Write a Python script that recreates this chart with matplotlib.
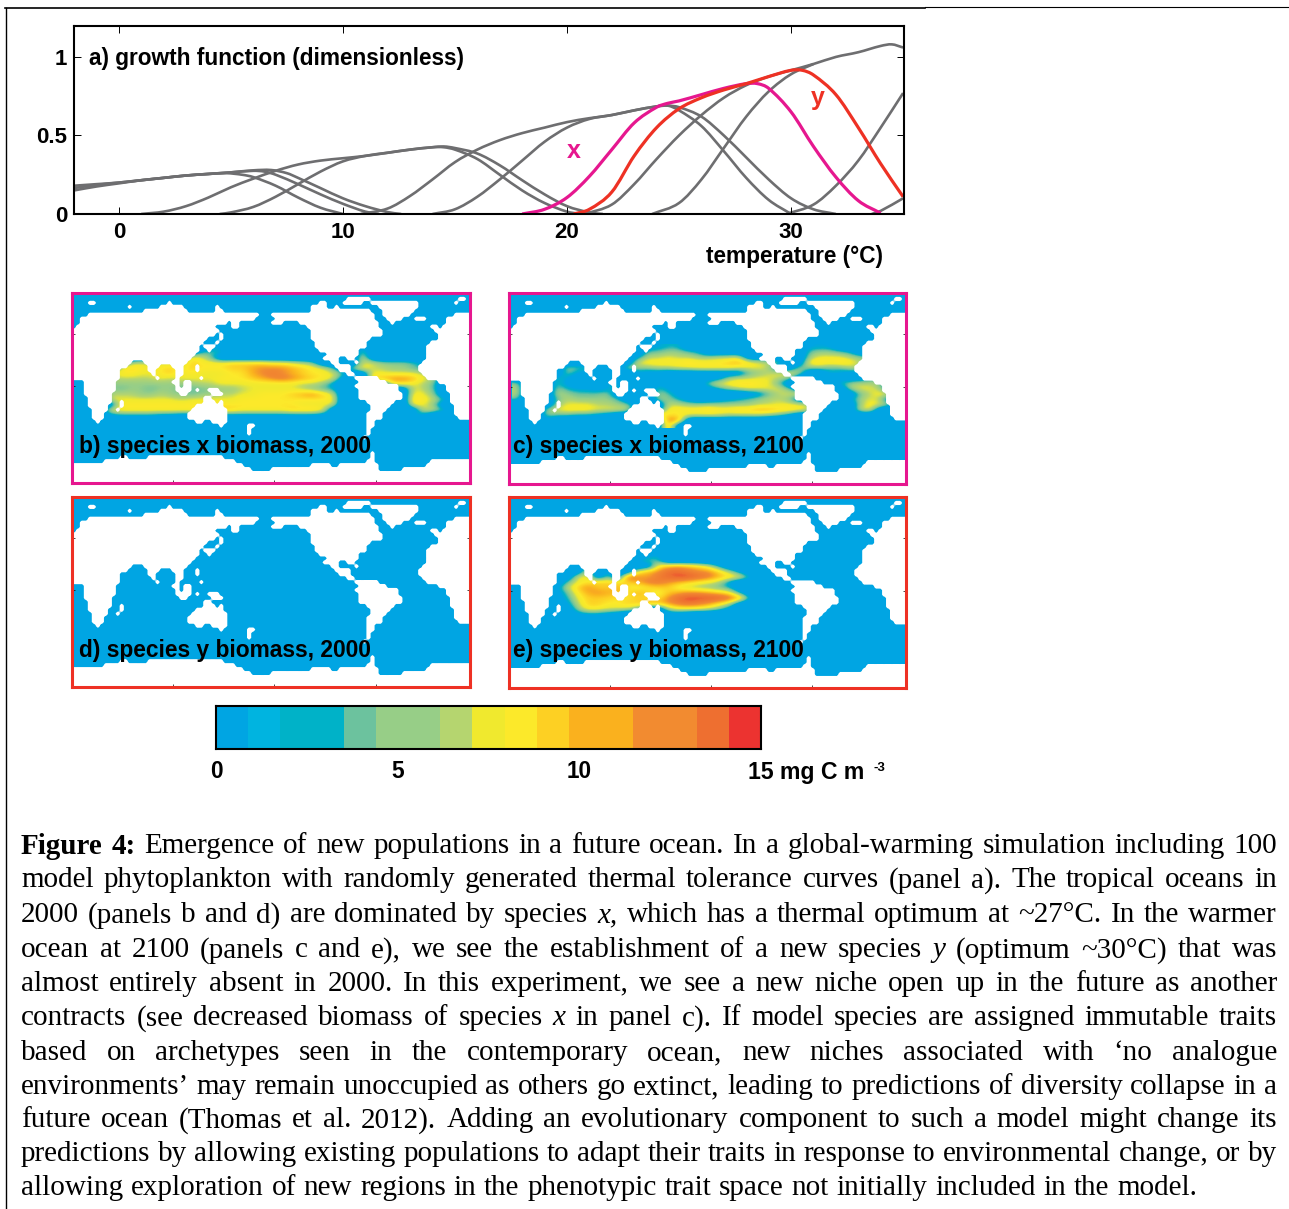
import numpy as np
import matplotlib
matplotlib.use('Agg')
import matplotlib.pyplot as plt
from matplotlib.colors import ListedColormap, LinearSegmentedColormap, BoundaryNorm, Normalize
from matplotlib.patches import PathPatch
from matplotlib.path import Path

W, H = 1289, 1209
plt.rcParams['font.family'] = ['Liberation Sans', 'DejaVu Sans']

# growth curves: [temperature, growth]
gray_curves = [
    ([-2, -1, 0, 1, 2, 3, 4, 4.8, 5.5, 6, 7, 8, 9, 10],
     [.15, .175, .195, .215, .23, .245, .255, .26, .25, .235, .18, .105, .04, 0]),
    ([-2, -1, 0, 1, 2, 3, 4, 5, 6, 6.5, 7, 8, 9, 10, 11, 11.6],
     [.165, .185, .2, .215, .23, .245, .255, .265, .275, .27, .25, .19, .125, .065, .015, 0]),
    ([-2, -1, 0, 1, 2, 3, 4, 5, 6, 6.8, 7.5, 8, 9, 10, 11, 12, 12.6],
     [.18, .19, .2, .215, .23, .245, .255, .265, .278, .28, .26, .23, .165, .1, .05, .012, 0]),
    ([1, 2, 3, 4, 5, 6, 7, 8, 9, 10, 11, 12, 13, 14, 14.5, 15, 16, 17, 18, 19, 20, 21, 21.6],
     [0, .015, .05, .105, .17, .225, .275, .315, .34, .355, .37, .39, .41, .425, .43, .42, .385, .31, .215, .125, .05, .01, 0]),
    ([4.5, 5, 6, 7, 8, 9, 10, 11, 12, 13, 14, 14.5, 15, 16, 17, 18, 19, 20, 20.6],
     [0, .01, .045, .11, .19, .27, .335, .37, .39, .41, .425, .425, .41, .35, .25, .15, .07, .015, 0]),
    ([10.8, 12, 13, 14, 15, 16, 17, 18, 19, 20, 21, 22, 23, 24, 24.5, 25, 26, 27, 28, 29, 30, 31, 32],
     [0, .035, .115, .22, .33, .41, .47, .515, .55, .585, .61, .63, .66, .685, .69, .68, .62, .5, .36, .22, .1, .03, 0]),
    ([14, 15, 16, 17, 18, 19, 20, 21, 22, 23, 24, 24.5, 25, 26, 27, 28, 29, 30],
     [0, .03, .11, .22, .34, .46, .55, .605, .63, .66, .685, .69, .66, .56, .4, .23, .09, 0]),
    ([20.8, 22, 23, 24, 25, 26, 27, 28, 29, 30, 31, 32, 33, 34, 34.5, 35],
     [0, .06, .19, .35, .5, .63, .74, .82, .875, .915, .955, 1.0, 1.03, 1.07, 1.08, 1.06]),
    ([23.8, 25, 26, 27, 28, 29, 30, 31],
     [0, .07, .22, .42, .62, .78, .89, .955]),
    ([29.8, 31, 32, 33, 34, 35], [0, .06, .18, .34, .55, .77]),
    ([33.6, 34, 35], [0, .02, .1]),
]
temp_x = [18, 19, 20, 21, 22, 23, 24, 24.5, 25, 26, 27, 28, 28.5, 29, 30, 31, 32, 33, 34]
grow_x = [0, .03, .105, .24, .41, .58, .68, .705, .72, .76, .8, .83, .83, .8, .65, .43, .235, .085, .005]
temp_y = [20.3, 21, 22, 23, 24, 25, 26, 27, 28, 29, 30, 30.5, 31, 32, 33, 34, 35]
grow_y = [0, .03, .14, .37, .55, .67, .74, .79, .83, .875, .915, .915, .885, .76, .55, .32, .11]

# colour bar levels
level_colors = ['#00A5E3', '#00B4E0', '#00B2C8', '#00B2C8', '#6CC29E', '#97CE87', '#97CE87',
                '#B5D56F', '#F0E92E', '#FCE92A', '#FDD023', '#FAB11E', '#FAB11E', '#F28B30',
                '#F28B30', '#EE6F30', '#EC3330']

# land cells of the 100x48 map, per row: (first col, end col)
land_rows = [
    [],
    [(69, 75), (97, 99)],
    [(4, 6), (24, 25), (68, 73), (75, 87), (62, 64), (96, 97)],
    [(14, 15), (22, 28), (36, 37), (60, 62), (62, 64), (66, 67), (77, 87)],
    [(18, 29), (36, 38), (60, 62), (62, 75), (78, 86)],
    [(4, 47), (50, 76), (78, 85), (96, 100)],
    [(2, 46), (51, 76), (79, 83), (86, 89), (94, 100)],
    [(2, 39), (40, 42), (50, 53), (57, 77), (80, 81), (94, 100)],
    [(1, 36), (40, 42), (59, 77), (90, 92), (93, 100)],
    [(0, 37), (60, 78), (91, 100)],
    [(0, 36), (37, 38), (60, 78), (92, 100)],
    [(0, 34), (37, 38), (60, 75), (92, 100)],
    [(0, 33), (36, 37), (61, 74), (90, 100)],
    [(0, 32), (33, 36), (61, 74), (89, 100)],
    [(0, 32), (34, 35), (62, 72), (89, 100)],
    [(0, 31), (64, 72), (89, 100)],
    [(0, 30), (63, 64), (64, 67), (69, 71), (89, 100)],
    [(0, 15), (18, 29), (65, 67), (71, 72), (88, 100)],
    [(0, 14), (19, 22), (25, 28), (31, 32), (66, 70), (87, 100)],
    [(0, 12), (19, 21), (26, 28), (31, 32), (67, 70), (87, 100)],
    [(0, 12), (20, 21), (26, 28), (69, 71), (88, 100)],
    [(0, 12), (21, 22), (26, 27), (32, 33), (71, 72), (72, 77), (89, 100)],
    [(3, 11), (25, 27), (28, 30), (72, 79), (92, 100)],
    [(3, 11), (26, 27), (28, 30), (71, 82), (94, 100)],
    [(3, 11), (26, 28), (28, 30), (31, 32), (34, 37), (72, 82), (94, 100)],
    [(3, 10), (27, 28), (28, 29), (35, 38), (72, 83), (95, 100)],
    [(4, 10), (33, 35), (72, 83), (95, 100)],
    [(4, 10), (12, 13), (33, 36), (37, 38), (74, 81), (95, 100)],
    [(4, 9), (12, 13), (31, 38), (75, 80), (96, 100)],
    [(5, 9), (11, 12), (30, 39), (75, 79), (96, 100)],
    [(5, 8), (29, 39), (74, 78), (96, 100)],
    [(5, 8), (29, 39), (74, 78), (97, 100)],
    [(6, 7), (31, 33), (35, 39), (74, 76)],
    [(37, 38), (44, 46), (74, 76)],
    [(44, 45), (74, 75)],
    [(44, 45), (74, 75)],
    [(73, 74)],
    [], [], [],
    [(75, 76)],
    [(12, 14), (19, 38), (75, 76)],
    [(8, 41), (74, 76), (90, 100)],
    [(0, 43), (60, 65), (67, 77), (89, 100)],
    [(0, 45), (50, 77), (83, 100)],
    [(0, 100)],
    [(0, 100)],
    [(0, 100)],
]

# biomass, hex digit = mg C m-3, 39 cols, 16 rows across the tropics
biomass_b = [
    '0000000000000330000000000000400000000',
    '0000000000005540000000000000600000000',
    '00000000000a8500000000000000800000000',
    '00000787887a999aaaa9987600008866653',
    '00008a989a8a999aabcccba98506977665440',
    '000799889a8988899bcdcba99850098888763',
    '00067777878888999abcdcba98200abccb87',
    '000666666666778888888877630000099875',
    '000656656655566678888876541000000875',
    '000777667665667788999abca80000000986',
    '000888888878888899999999990000000a975',
    '000099999999999999999988880000000986',
    '000899999999aaaa99999aaa9000000000875',
    '00034444332233333333333322000000043',
    '0',
    '0',
]
biomass_c = [
    '0000000000000234400000000000033300',
    '0000000000000556654000000000056654',
    '000000000000377877667780000006888765',
    '00000000000089999a999ab9876009a9a9760',
    '00000655000766778899998887006665577',
    '000006320000322111111115678870043222780',
    '00005310240010000001267788760000211367',
    '6000521113400031001689aa9850000046776',
    '7000643323500053100246788885000006887',
    '7000765556000065210000012578860000579850',
    '5000576666500066420123456776000003687',
    '00006888776600077666666677888700006986',
    '0006899988870009999a99aabbaa98000079',
    '00065544320000b9988887777653000453',
    '000300000000000dc',
    '000000000000000c',
]
biomass_e = [
    '0',
    '0000000000000340',
    '000000000000455',
    '000000060300009bcba8400',
    '0000000804009bceedcca730',
    '00000089060ecbdeffedba95',
    '00000589aa9abddcba98730',
    '000037acaab989aa87665410',
    '0000259bcbb9ba8abccba940',
    '0000248aaa99a99ceffffec5',
    '0000037aa99aacbcdedca82',
    '0000016998886007999863',
    '000000344320000221',
    '0',
    '0',
    '0',
]

map_panels = [
    ('b) species x biomass, 2000', biomass_b, (72, 293, 470, 483), '#E6178F'),
    ('c) species x biomass, 2100', biomass_c, (509, 293, 906, 484), '#E6178F'),
    ('d) species y biomass, 2000', None, (72, 497, 470, 687), '#EE3124'),
    ('e) species y biomass, 2100', biomass_e, (509, 497, 906, 688), '#EE3124'),
]

caption_lines = [
    '#Figure #4: Emergence of new populations in a future ocean. In a global-warming simulation including 100',
    'model phytoplankton with randomly generated thermal tolerance curves (panel a). The tropical oceans in',
    '2000 (panels b and d) are dominated by species *x, which has a thermal optimum at ~27°C. In the warmer',
    'ocean at 2100 (panels c and e), we see the establishment of a new species *y (optimum ~30°C) that was',
    'almost entirely absent in 2000. In this experiment, we see a new niche open up in the future as another',
    'contracts (see decreased biomass of species *x in panel c). If model species are assigned immutable traits',
    'based on archetypes seen in the contemporary ocean, new niches associated with ‘no analogue',
    'environments’ may remain unoccupied as others go extinct, leading to predictions of diversity collapse in a',
    'future ocean (Thomas et al. 2012). Adding an evolutionary component to such a model might change its',
    'predictions by allowing existing populations to adapt their traits in response to environmental change, or by',
    'allowing exploration of new regions in the phenotypic trait space not initially included in the model.',
]
caption_y = [843, 877, 912, 947, 981, 1015, 1050, 1084, 1117, 1151, 1185]


def px_axes(fig, x0, y0, x1, y1):
    return fig.add_axes([x0 / W, 1 - y1 / H, (x1 - x0) / W, (y1 - y0) / H])


def draw_curve(ax, t, g, color, lw):
    # curve through the read points, so it doesn't look like a polyline
    pts = np.column_stack([t, g])
    verts = [pts[0]]
    for i in range(len(pts) - 1):
        p0 = pts[max(i - 1, 0)]
        p1, p2 = pts[i], pts[i + 1]
        p3 = pts[min(i + 2, len(pts) - 1)]
        h = p2[0] - p1[0]
        m1 = (p2 - p0) / max(p2[0] - p0[0], 1e-6)
        m2 = (p3 - p1) / max(p3[0] - p1[0], 1e-6)
        verts += [p1 + m1 * h / 3, p2 - m2 * h / 3, p2]
    codes = [Path.MOVETO] + [Path.CURVE4] * (len(verts) - 1)
    ax.add_patch(PathPatch(Path(verts, codes), fill=False, edgecolor=color, lw=lw))


fig = plt.figure(figsize=(W / 100, H / 100), dpi=100)
page = fig.add_axes([0, 0, 1, 1], zorder=10)
page.set_xlim(0, W)
page.set_ylim(H, 0)
page.axis('off')
page.patch.set_alpha(0)

# page rules
page.plot([5, 925], [8, 8], color='k', lw=1.2)
page.plot([925, W], [7, 7], color='k', lw=0.8)
page.plot([6, 6], [8, H], color='k', lw=1.0)

# panel a
ax = px_axes(fig, 74, 26, 904, 214)
for t, g in gray_curves:
    draw_curve(ax, t, g, '#6E6E70', 1.9)
draw_curve(ax, temp_x, grow_x, '#E6178F', 2.3)
draw_curve(ax, temp_y, grow_y, '#EE3124', 2.3)
ax.set_xlim(-2, 35.04)
ax.set_ylim(0, 1.197)
ax.set_xticks([0, 10, 20, 30])
ax.set_yticks([0, 0.5, 1])
ax.set_yticklabels(['0', '0.5', '1'])
ax.tick_params(direction='in', length=5, width=0.7, top=True, right=True, labelsize=16)
ax.tick_params(axis='x', pad=6)
ax.tick_params(axis='y', pad=5)
for lab in ax.get_xticklabels() + ax.get_yticklabels():
    lab.set_fontweight('bold')
for lab in ax.get_yticklabels():
    lab.set_verticalalignment('center_baseline')
for s in ax.spines.values():
    s.set_linewidth(1.5)
page.text(89, 58, 'a) growth function (dimensionless)', fontsize=16.3, fontweight='bold', va='center')
ax.text(20.3, 0.40, 'x', color='#E6178F', fontsize=18, fontweight='bold', ha='center', va='center')
ax.text(31.2, 0.74, 'y', color='#EE3124', fontsize=18, fontweight='bold', ha='center', va='center')
page.text(795, 256, 'temperature (°C)', fontsize=16.3, fontweight='bold', ha='center', va='center')

# maps, low biomass stays ocean blue so the patches get a thin rim like the original
smooth = LinearSegmentedColormap.from_list('biomass', [
    (0, '#00A5E3'), (3 / 15, '#00A5E3'), (4 / 15, '#00B2C8'), (5 / 15, '#6CC29E'), (6 / 15, '#97CE87'),
    (7 / 15, '#B5D56F'), (8 / 15, '#F0E92E'), (9 / 15, '#FCE92A'), (10 / 15, '#FDD023'),
    (11 / 15, '#FAB11E'), (12 / 15, '#F28B30'), (14 / 15, '#EE6F30'), (1, '#EC3330')])
coast = LinearSegmentedColormap.from_list('coast', [
    (0, (1, 1, 1, 0)), (0.35, (1, 1, 1, 0)), (0.6, (1, 1, 1, 1)), (1, (1, 1, 1, 1))])
land = np.zeros((48, 100))
for r, runs in enumerate(land_rows):
    for a, b in runs:
        land[r, a:b] = 1

for label, rows, box, edge in map_panels:
    m = px_axes(fig, *box)
    m.set_facecolor(level_colors[0])
    if rows is not None:
        grid = np.array([[int(c, 16) for c in r.ljust(39, '0')[:39]] for r in rows], dtype=float)
        m.imshow(grid, extent=(0.75, 99.5, 34, 13.1), cmap=smooth, norm=Normalize(0, 15),
                 interpolation='bicubic', aspect='auto')
    m.imshow(land, extent=(0, 100, 48, 0), cmap=coast, norm=Normalize(0, 1),
             interpolation='bilinear', interpolation_stage='data', aspect='auto')
    m.set_xlim(0, 100)
    m.set_ylim(48, 0)
    m.set_xticks([25.4, 50.8, 76.3])
    m.set_yticks([10.4, 23.6])
    m.set_xticklabels([])
    m.set_yticklabels([])
    m.tick_params(direction='in', length=2, width=0.5, right=True, left=True, bottom=True)
    for s in m.spines.values():
        s.set_color(edge)
        s.set_linewidth(2.2)
    page.text(box[0] + 7 if label[0] in 'bd' else box[0] + 4, box[1] + 154, label, fontsize=16.4,
              fontweight='bold', va='center')

# colour bar
cb = px_axes(fig, 216, 706, 761, 749)
edges = np.linspace(0, 15, len(level_colors) + 1)
cb.pcolormesh(edges, [0, 1], (edges[:-1] + edges[1:]).reshape(1, -1) / 2,
              cmap=ListedColormap(level_colors), norm=BoundaryNorm(edges, len(level_colors)))
cb.set_yticks([])
cb.set_xticks([0, 5, 10])
cb.tick_params(length=0, pad=8, labelsize=16.3)
for lab in cb.get_xticklabels():
    lab.set_fontweight('bold')
for s in cb.spines.values():
    s.set_linewidth(1.5)
page.text(748, 772, '15 mg C m', fontsize=16.6, fontweight='bold', va='center')
page.text(873, 768, '-3', fontsize=9.5, fontweight='bold', va='center')

# caption, justified word by word
fig.canvas.draw()
rend = fig.canvas.get_renderer()
serif = ['Liberation Serif', 'DejaVu Serif']
for i, (line, y) in enumerate(zip(caption_lines, caption_y)):
    items = []
    for word in line.split(' '):
        kw = {}
        if word.startswith('#'):
            kw['fontweight'] = 'bold'
            word = word[1:]
        elif word.startswith('*'):
            kw['fontstyle'] = 'italic'
            word = word[1:]
        t = page.text(0, y, word, fontsize=21, family=serif, va='center_baseline', ha='left', **kw)
        items.append((t, t.get_window_extent(rend).width))
    total = sum(w for _, w in items)
    gap = 7.8 if i == len(caption_lines) - 1 else (1256 - total) / (len(items) - 1)
    x = 21
    for t, w in items:
        t.set_x(x)
        x += w + gap

fig.savefig('out.png', dpi=100)
